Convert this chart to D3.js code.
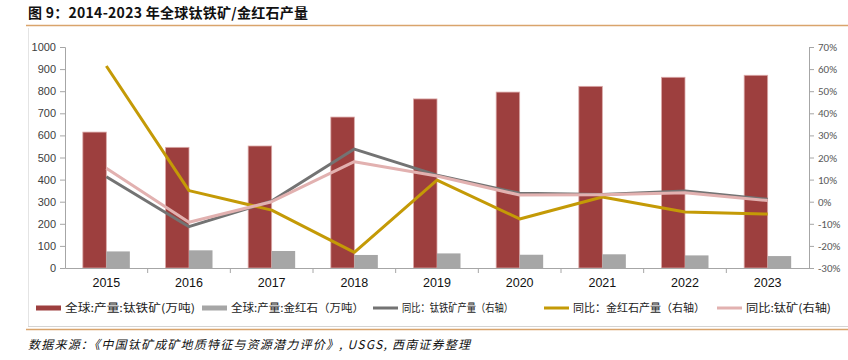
<!DOCTYPE html>
<html>
<head>
<meta charset="utf-8">
<script src="https://cdn.jsdelivr.net/npm/d3@7"></script>
<style>
  body { margin: 0; background: #fff; }
  svg { display: block; }
</style>
</head>
<body>
<script>
// 数据
const years = ["2015", "2016", "2017", "2018", "2019", "2020", "2021", "2022", "2023"];
const ilmenite = [615, 546, 552, 683, 765, 796, 822, 863, 872];   // 全球:产量:钛铁矿(万吨)
const rutile = [75, 80, 77, 59, 66, 60, 62, 57, 54];              // 全球:产量:金红石(万吨)
const ilmeniteYoy = [11.3, -11.3, 0.3, 23.8, 12.0, 3.8, 3.3, 4.8, 1.1];   // 同比：钛铁矿产量
const rutileYoy = [61.4, 5.0, -3.8, -22.9, 9.8, -7.8, 2.1, -4.7, -5.6];    // 同比：金红石产量
const titaniumYoy = [15.1, -9.3, 0.0, 18.1, 11.6, 3.0, 3.2, 4.1, 0.5];     // 同比:钛矿
const leftTicks = [0, 100, 200, 300, 400, 500, 600, 700, 800, 900, 1000];
const rightTicks = [-30, -20, -10, 0, 10, 20, 30, 40, 50, 60, 70];

const width = 848, height = 360;
const svg = d3.select("body").append("svg")
    .attr("width", width)
    .attr("height", height);

const cjk = "'Noto Sans CJK SC', sans-serif";
const latin = "'Liberation Sans', Arial, sans-serif";

// 标题
svg.append("text")
    .attr("x", 28).attr("y", 18)
    .attr("font-family", cjk)
    .attr("font-size", 14)
    .attr("font-weight", "bold")
    .attr("fill", "#111")
    .attr("textLength", 280)
    .attr("lengthAdjust", "spacing")
    .text("图 9：2014-2023 年全球钛铁矿/金红石产量");

svg.append("line")
    .attr("x1", 26).attr("x2", width).attr("y1", 25.5).attr("y2", 25.5)
    .attr("stroke", "#d9a46c").attr("stroke-width", 1.5);

// 外框
svg.append("line").attr("x1", 28.5).attr("x2", 28.5).attr("y1", 28).attr("y2", 326)
    .attr("stroke", "#e4e4e4");
svg.append("line").attr("x1", 28).attr("x2", width).attr("y1", 326.5).attr("y2", 326.5)
    .attr("stroke", "#d4d4d4");
svg.append("line")
    .attr("x1", 26).attr("x2", width).attr("y1", 329.5).attr("y2", 329.5)
    .attr("stroke", "#d9a46c").attr("stroke-width", 1.5);

// 比例尺
const x = d3.scaleBand().domain(years).range([65, 809]).padding(0);
const yL = d3.scaleLinear().domain([0, 1000]).range([268, 47]);
const yR = d3.scaleLinear().domain([-30, 70]).range([268, 47]);
const groupW = 47;
const xSub = d3.scaleBand().domain(["ilm", "rut"]).range([0, groupW]).padding(0);

const g = svg.append("g");

// 左轴
const leftAxis = g.append("g")
    .attr("transform", `translate(65,0)`)
    .call(d3.axisLeft(yL).tickValues(leftTicks).tickSize(5).tickPadding(4).tickFormat(d3.format("d")));
leftAxis.select(".domain").attr("stroke", "#a6a6a6");
leftAxis.selectAll(".tick line").attr("stroke", "#a6a6a6");
leftAxis.selectAll("text").attr("font-family", latin).attr("font-size", 11).attr("fill", "#404040");

// 右轴
const rightAxis = g.append("g")
    .attr("transform", `translate(809,0)`)
    .call(d3.axisRight(yR).tickValues(rightTicks).tickSize(5).tickPadding(4).tickFormat(d => d + "%"));
rightAxis.select(".domain").attr("stroke", "#a6a6a6");
rightAxis.selectAll(".tick line").attr("stroke", "#a6a6a6");
rightAxis.selectAll("text").attr("font-family", "Carlito, 'Open Sans', sans-serif").attr("font-size", 11).attr("fill", "#595959");

// 柱子
const groups = g.append("g").selectAll("g")
    .data(years)
    .join("g")
    .attr("transform", d => `translate(${x(d) + x.bandwidth() / 2 - groupW / 2},0)`);

groups.append("rect")
    .attr("x", xSub("ilm"))
    .attr("width", xSub.bandwidth())
    .attr("y", (d, i) => yL(ilmenite[i]))
    .attr("height", (d, i) => yL(0) - yL(ilmenite[i]))
    .attr("fill", "#9d3f3e")
    .attr("stroke", "#dba9a8")
    .attr("stroke-width", 0.8);

groups.append("rect")
    .attr("x", xSub("rut"))
    .attr("width", xSub.bandwidth())
    .attr("y", (d, i) => yL(rutile[i]))
    .attr("height", (d, i) => yL(0) - yL(rutile[i]))
    .attr("fill", "#a6a6a6");

// 底轴
const bottomAxis = g.append("g")
    .attr("transform", `translate(0,268)`)
    .call(d3.axisBottom(x).tickSize(0).tickPadding(10));
bottomAxis.select(".domain").attr("stroke", "#a6a6a6");
bottomAxis.selectAll("text").attr("font-family", latin).attr("font-size", 12.5).attr("fill", "#111");
// 类别分隔刻度
g.append("g").selectAll("line")
    .data(years.slice(1))
    .join("line")
    .attr("x1", d => x(d)).attr("x2", d => x(d))
    .attr("y1", 268).attr("y2", 273)
    .attr("stroke", "#a6a6a6");

// 折线
const lineGen = vals => d3.line()
    .x((d, i) => x(years[i]) + x.bandwidth() / 2)
    .y(d => yR(d))(vals);

const lineSeries = [
    { vals: ilmeniteYoy, color: "#737373" },
    { vals: rutileYoy, color: "#c49a06" },
    { vals: titaniumYoy, color: "#e2b1b0" }
];
g.append("g").selectAll("path")
    .data(lineSeries)
    .join("path")
    .attr("d", d => lineGen(d.vals))
    .attr("fill", "none")
    .attr("stroke", d => d.color)
    .attr("stroke-width", 3)
    .attr("stroke-linejoin", "round");

// 图例
const legendItems = [
    { label: "全球:产量:钛铁矿(万吨)", type: "rect", color: "#9d3f3e", x: 36, w: 130 },
    { label: "全球:产量:金红石（万吨）", type: "rect", color: "#a6a6a6", x: 202, w: 133 },
    { label: "同比：钛铁矿产量（右轴）", type: "line", color: "#737373", x: 373, w: 111 },
    { label: "同比：金红石产量（右轴）", type: "line", color: "#c49a06", x: 544, w: 132 },
    { label: "同比:钛矿(右轴)", type: "line", color: "#e2b1b0", x: 717, w: 85 }
];
const legend = svg.append("g").selectAll("g")
    .data(legendItems)
    .join("g")
    .attr("transform", d => `translate(${d.x},308)`);
legend.append("rect")
    .attr("x", 0)
    .attr("y", d => d.type === "rect" ? -2.5 : -1.5)
    .attr("width", 25)
    .attr("height", d => d.type === "rect" ? 5 : 3)
    .attr("fill", d => d.color);
legend.append("text")
    .attr("x", 29).attr("y", 4)
    .attr("font-family", cjk)
    .attr("font-size", 11)
    .attr("fill", "#222")
    .attr("textLength", d => d.w)
    .attr("lengthAdjust", "spacingAndGlyphs")
    .text(d => d.label);

// 数据来源
svg.append("text")
    .attr("x", 28).attr("y", 349)
    .attr("font-family", cjk)
    .attr("font-size", 12)
    .attr("font-style", "italic")
    .attr("fill", "#111")
    .attr("textLength", 442)
    .attr("lengthAdjust", "spacing")
    .text("数据来源：《中国钛矿成矿地质特征与资源潜力评价》, USGS, 西南证券整理");
</script>
</body>
</html>
